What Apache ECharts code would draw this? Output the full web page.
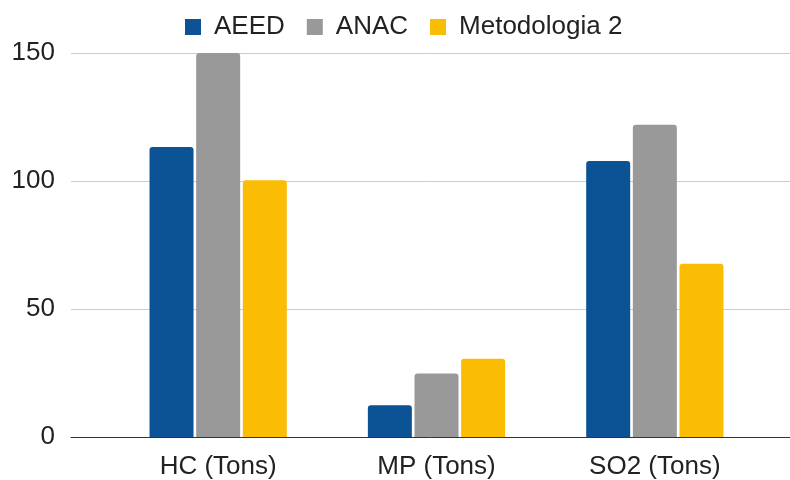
<!DOCTYPE html>
<html>
<head>
<meta charset="utf-8">
<script src="https://cdn.jsdelivr.net/npm/echarts@6/dist/echarts.min.js"></script>
<style>
  html, body { margin: 0; padding: 0; background: #fff; }
  #chart { width: 790px; height: 480px; }
</style>
</head>
<body>
<div id="chart"></div>
<script>
// Emissions per pollutant, three estimation methods
const categories = ['HC (Tons)', 'MP (Tons)', 'SO2 (Tons)'];
const seriesNames = ['AEED', 'ANAC', 'Metodologia 2'];
const aeed = [113.3, 12.4, 107.8];
const anac = [150, 24.8, 122];
const metodologia2 = [100.3, 30.6, 67.7];
const yTicks = [0, 50, 100, 150];

const colors = ['#0b5394', '#999999', '#fbbc04'];
const FONT = '"Liberation Sans", Arial, sans-serif';
const FONT_SIZE = 26;
const TOP = 53, BOTTOM = 43;

const chart = echarts.init(document.getElementById('chart'), null, { renderer: 'canvas' });

const valueSets = [aeed, anac, metodologia2];

chart.setOption({
  animation: false,
  color: colors,
  textStyle: { fontFamily: FONT },
  legend: {
    top: 14,
    left: 185,
    padding: 0,
    itemWidth: 16,
    itemHeight: 16,
    itemGap: 22,
    icon: 'rect',
    textStyle: { fontSize: FONT_SIZE, color: '#222', fontFamily: FONT, padding: [0, 0, 0, 8] },
    data: seriesNames
  },
  grid: [
    // frame with gridlines and value labels
    { left: 71, right: 0, top: TOP, bottom: BOTTOM },
    // area holding the bar groups
    { left: 109, right: 26, top: TOP, bottom: BOTTOM }
  ],
  xAxis: [
    {
      gridIndex: 0, type: 'category', data: [''],
      axisLine: { show: true, lineStyle: { color: '#333', width: 1 } },
      axisTick: { show: false }, axisLabel: { show: false }
    },
    {
      gridIndex: 1, type: 'category', data: categories,
      axisLine: { show: false }, axisTick: { show: false },
      axisLabel: { fontSize: FONT_SIZE, color: '#222', margin: 17, fontFamily: FONT }
    }
  ],
  yAxis: [
    {
      gridIndex: 0, type: 'value', min: yTicks[0], max: yTicks[yTicks.length - 1], interval: 50,
      axisLine: { show: false }, axisTick: { show: false },
      axisLabel: { fontSize: FONT_SIZE, color: '#222', margin: 16, fontFamily: FONT },
      splitLine: { lineStyle: { color: '#cccccc', width: 1 } }
    },
    {
      gridIndex: 1, type: 'value', min: yTicks[0], max: yTicks[yTicks.length - 1], interval: 50,
      show: false, splitLine: { show: false }
    }
  ],
  series: seriesNames.map((name, i) => ({
    name: name,
    type: 'bar',
    xAxisIndex: 1,
    yAxisIndex: 1,
    data: valueSets[i],
    barWidth: 44,
    barGap: '6%',
    itemStyle: { color: colors[i], borderRadius: [3, 3, 0, 0] }
  }))
});
</script>
</body>
</html>
